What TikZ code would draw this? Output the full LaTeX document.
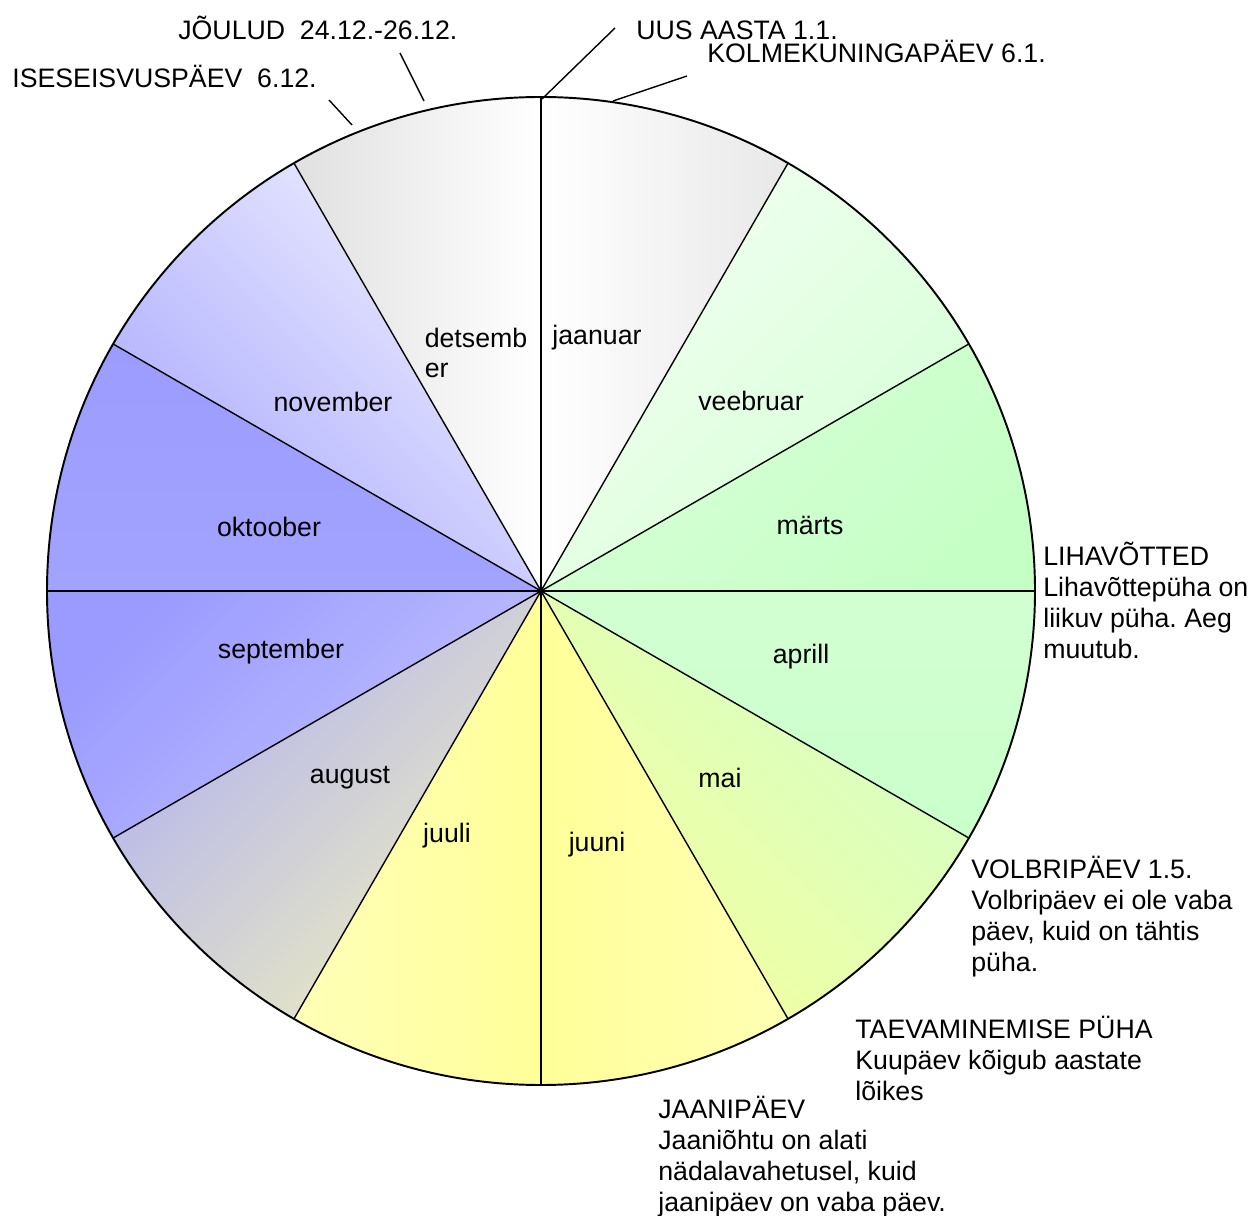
\documentclass[tikz,border=0pt]{standalone}
\usepackage{fontspec}
\setmainfont{Liberation Sans}
\usetikzlibrary{positioning}
\frenchspacing

\definecolor{janGray}{HTML}{E8E8E8}
\definecolor{decGray}{HTML}{E0E0E0}
\definecolor{febTop}{HTML}{F2FFF2}
\definecolor{febBot}{HTML}{D6FFD6}
\definecolor{marTop}{HTML}{D8FFD8}
\definecolor{marBot}{HTML}{C6FFC6}
\definecolor{aprTop}{HTML}{D2FFD2}
\definecolor{aprBot}{HTML}{CAFFCA}
\definecolor{mayTop}{HTML}{D4FFC8}
\definecolor{mayBot}{HTML}{F4FF9E}
\definecolor{junTop}{HTML}{FFFFB4}
\definecolor{junBot}{HTML}{FFFF99}
\definecolor{julTop}{HTML}{FFFFB8}
\definecolor{julBot}{HTML}{FFFF99}
\definecolor{augTop}{HTML}{B2B2F0}
\definecolor{augBot}{HTML}{ECECC0}
\definecolor{sepTop}{HTML}{9A9AFF}
\definecolor{sepBot}{HTML}{C0C0FF}
\definecolor{octTop}{HTML}{9C9CFF}
\definecolor{octBot}{HTML}{A2A2FF}
\definecolor{novTop}{HTML}{EEEEFF}
\definecolor{novBot}{HTML}{ABABFF}

\begin{document}
\begin{tikzpicture}[x=0.02cm,y=0.02cm,
  month/.style={font=\fontsize{15.2pt}{17.6pt}\selectfont,inner sep=0pt},
  holiday/.style={font=\fontsize{15.2pt}{17.6pt}\selectfont,inner sep=0pt,align=left},
  leader/.style={line width=0.8pt}]
\useasboundingbox (-541,-625) rectangle (709,591);

% Sectors
\foreach \a/\ctop/\cbot/\ang in {90/janGray/white/-90, 60/febTop/febBot/45,
    30/marTop/marBot/45, 0/aprTop/aprBot/0, -30/mayTop/mayBot/-45,
    -60/junTop/junBot/-90, -90/julTop/julBot/90, -120/augTop/augBot/45,
    -150/sepTop/sepBot/45, 180/octTop/octBot/0, 150/novTop/novBot/-45,
    120/decGray/white/90}
  \shade[top color=\ctop,bottom color=\cbot,shading angle=\ang]
    (0,0) -- (\a:494) arc[start angle=\a,end angle=\a-30,radius=494] -- cycle;

% Spokes and rim
\foreach \a in {0,30,...,330}
  \draw[line width=0.8pt] (0,0) -- (\a:494);
\draw[line width=1.1pt] (0,0) circle[radius=494];

% Months
\node[month] (jaanuar) at (56,253) {jaanuar};
\node[month] (veebruar) at (210,190) {veebruar};
\node[month] (marts) at (269,66) {märts};
\node[month] (aprill) at (260,-66) {aprill};
\node[month] (mai) at (179,-187) {mai};
\node[month] (juuni) at (56,-254) {juuni};
\node[month] (juuli) at (-94,-245) {juuli};
\node[month] (august) at (-191,-187) {august};
\node[month] (september) at (-260,-61) {september};
\node[month] (oktoober) at (-272,64) {oktoober};
\node[month] (november) at (-208,189) {november};
\node[month,align=left] (detsember) at (-65,238) {detsemb\\er};

% Holidays at the top
\node[holiday,anchor=base west] (joulud) at (-363,551) {JÕULUD\ \ 24.12.-26.12.};
\node[holiday,anchor=base west] (iseseisvus) at (-529,503) {ISESEISVUSPÄEV\ \ 6.12.};
\node[holiday,anchor=base west] (uusaasta) at (95,551) {UUS AASTA 1.1.};
\node[holiday,anchor=base west] (kolmekuninga) at (166,528) {KOLMEKUNINGAPÄEV 6.1.};

\coordinate (joulud-a) at (-141,538);
\coordinate (joulud-b) at (-117,490);
\coordinate (iseseisvus-a) at (-212,491);
\coordinate (iseseisvus-b) at (-189,466);
\coordinate (uusaasta-a) at (74,563);
\coordinate (uusaasta-b) at (1,492);
\coordinate (kolmekuninga-a) at (146,515);
\coordinate (kolmekuninga-b) at (72,490);
\draw[leader] (joulud-a) -- (joulud-b);
\draw[leader] (iseseisvus-a) -- (iseseisvus-b);
\draw[leader] (uusaasta-a) -- (uusaasta-b);
\draw[leader] (kolmekuninga-a) -- (kolmekuninga-b);

% Holidays on the right
\node[holiday,anchor=north west] (lihavotted) at (502,49)
  {LIHAVÕTTED\\Lihavõttepüha on\\liikuv püha. Aeg\\muutub.};
\node[holiday,anchor=north west] (volbripaev) at (430,-265)
  {VOLBRIPÄEV 1.5.\\Volbripäev ei ole vaba\\päev, kuid on tähtis\\püha.};
\node[holiday,anchor=north west] (taevaminemine) at (314,-425)
  {TAEVAMINEMISE PÜHA\\Kuupäev kõigub aastate\\lõikes};
\node[holiday,anchor=north west] (jaanipaev) at (117,-505)
  {JAANIPÄEV\\Jaaniõhtu on alati\\nädalavahetusel, kuid\\jaanipäev on vaba päev.};
\end{tikzpicture}
\end{document}
